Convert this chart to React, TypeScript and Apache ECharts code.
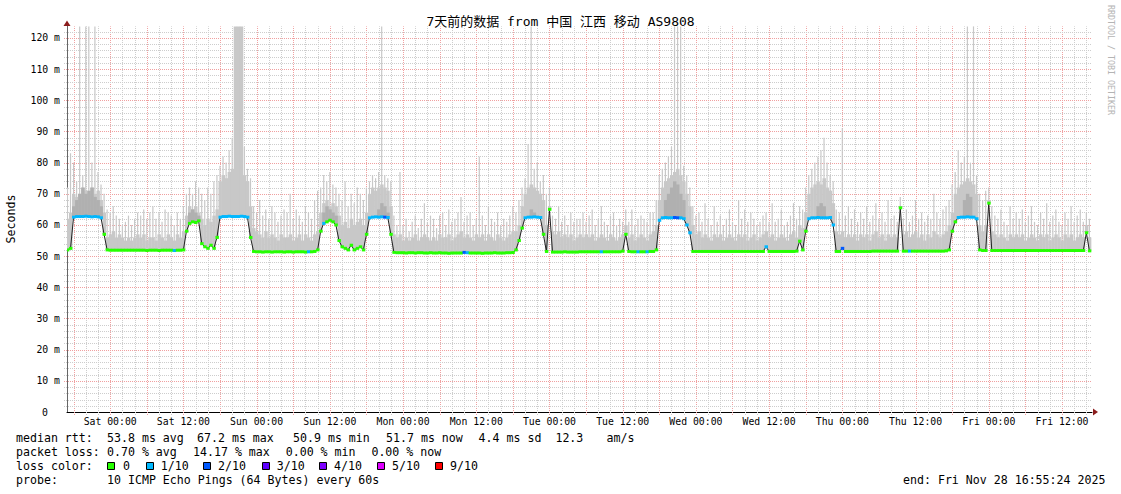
import React, { useEffect, useRef } from 'react';
import * as echarts from 'echarts';

const FONT = "'DejaVu Sans Mono', 'Noto Sans CJK SC', monospace";
const TITLE = '7天前的数据 from 中国 江西 移动 AS9808';
const SIDE_TEXT = 'RRDTOOL / TOBI OETIKER';
const Y_NAME = 'Seconds';

// time in hours relative to Sat 00:00 (end: Fri Nov 28 16:55:24, span 7 days)
const X_MIN = -7.0767;
const X_MAX = 160.9233;
const Y_MAX = 123.7;
const SLOT_START = -7; // first sample (hours)
const SLOT_STEP = 0.5; // one sample every 30 min

const tickHours = [0, 12, 24, 36, 48, 60, 72, 84, 96, 108, 120, 132, 144, 156];
const tickLabels = ['Sat 00:00', 'Sat 12:00', 'Sun 00:00', 'Sun 12:00', 'Mon 00:00', 'Mon 12:00', 'Tue 00:00',
  'Tue 12:00', 'Wed 00:00', 'Wed 12:00', 'Thu 00:00', 'Thu 12:00', 'Fri 00:00', 'Fri 12:00'];
const yLabelValues = [0, 10, 20, 30, 40, 50, 60, 70, 80, 90, 100, 110, 120];

// median rtt (ms), one value per 30 min
const median = [
  52, 52.5, 62.5, 62.7, 62.7, 62.7, 62.8, 62.7, 62.6, 62.7, 62.6, 62.3, 57, 52, 51.9, 51.9, 51.9, 51.9, 51.9, 51.9, 51.9, 51.9, 51.9, 51.9,
  51.9, 51.9, 51.8, 51.9, 51.9, 51.9, 51.8, 51.9, 51.9, 51.9, 51.9, 51.8, 51.9, 51.9, 52, 58, 60.5, 61, 60.8, 61.3, 54, 53, 52.5, 53.5,
  52.5, 56, 62.5, 62.7, 62.7, 62.8, 62.7, 62.7, 62.7, 62.8, 62.7, 62.5, 56, 51.5, 51.4, 51.4, 51.3, 51.4, 51.4, 51.3, 51.4, 51.4, 51.4, 51.3,
  51.4, 51.4, 51.3, 51.4, 51.4, 51.4, 51.3, 51.4, 51.4, 51.5, 52, 58, 60.5, 61, 61.5, 61, 60, 55, 53, 52.5, 52, 53.5, 52, 52.5,
  53, 52, 57, 62.3, 62.5, 62.6, 62.5, 62.6, 62.5, 62.4, 57, 51.2, 51.1, 51.1, 51.1, 51, 51.1, 51.1, 51, 51.1, 51.1, 51, 51, 51.1,
  51, 51, 51.1, 51, 51, 50.9, 51, 51, 51, 51, 51.2, 51.1, 51, 51, 51, 51, 50.9, 51, 51, 51, 51.1, 51, 51, 51,
  51.1, 51.1, 51.2, 52, 55, 59, 62.3, 62.5, 62.5, 62.6, 62.5, 62.4, 57, 51.5, 65, 51.3, 51.3, 51.3, 51.3, 51.4, 51.3, 51.3, 51.3, 51.3,
  51.4, 51.4, 51.4, 51.4, 51.4, 51.4, 51.4, 51.4, 51.4, 51.4, 51.4, 51.4, 51.4, 51.4, 51.6, 57, 51.5, 51.4, 51.4, 51.4, 51.4, 51.4, 51.4, 51.5,
  51.5, 52, 61.5, 62.3, 62.4, 62.3, 62.3, 62.4, 62.3, 62.3, 62, 60, 57.5, 51.5, 51.5, 51.5, 51.5, 51.5, 51.5, 51.5, 51.5, 51.5, 51.5, 51.5,
  51.5, 51.5, 51.5, 51.5, 51.5, 51.5, 51.5, 51.5, 51.5, 51.5, 51.5, 51.5, 51.5, 53, 51.5, 51.5, 51.5, 51.5, 51.5, 51.5, 51.5, 51.5, 51.5, 51.6,
  54.8, 52, 58, 62, 62.3, 62.3, 62.4, 62.3, 62.3, 62.3, 62.4, 60, 51.5, 51.5, 52.5, 51.5, 51.5, 51.5, 51.5, 51.5, 51.5, 51.5, 51.5, 51.5,
  51.6, 51.6, 51.6, 51.6, 51.6, 51.6, 51.6, 51.6, 51.6, 65.5, 51.6, 51.6, 51.6, 51.6, 51.6, 51.6, 51.6, 51.6, 51.6, 51.6, 51.6, 51.6, 51.6, 51.6,
  51.7, 52, 58, 61, 62.4, 62.5, 62.5, 62.6, 62.5, 62.5, 62, 52, 51.8, 51.8, 67, 51.8, 51.8, 51.8, 51.8, 51.8, 51.8, 51.8, 51.8, 51.8,
  51.8, 51.8, 51.8, 51.8, 51.8, 51.8, 51.8, 51.8, 51.8, 51.8, 51.8, 51.8, 51.8, 51.8, 51.8, 51.8, 51.8, 51.8, 51.8, 51.8, 51.8, 51.8, 57.5, 51.7,
];

// upper edge of the dense smoke body (ms)
const smokeMid = [
  62, 64, 70, 69, 70, 72, 71, 70, 72, 70, 71, 68, 64, 56, 57, 58, 56, 57, 56, 55, 56, 55, 56, 57,
  56, 57, 55, 56, 56, 55, 57, 56, 55, 57, 56, 55, 57, 56, 58, 63, 66, 65, 66, 64, 62, 60, 62, 61,
  63, 65, 74, 76, 75, 77, 78, 130, 130, 130, 76, 74, 66, 59, 58, 57, 56, 58, 56, 57, 56, 55, 57, 56,
  56, 57, 55, 56, 57, 55, 57, 56, 55, 57, 58, 64, 67, 68, 66, 67, 66, 63, 60, 61, 59, 62, 60, 61,
  62, 60, 64, 70, 72, 71, 72, 73, 72, 71, 66, 57, 56, 57, 55, 56, 55, 56, 57, 55, 56, 57, 56, 55,
  56, 55, 57, 56, 56, 57, 55, 56, 57, 58, 56, 57, 56, 55, 57, 56, 57, 55, 57, 56, 55, 57, 56, 55,
  56, 57, 58, 58, 60, 66, 70, 72, 73, 72, 71, 70, 68, 60, 66, 58, 57, 58, 56, 57, 56, 57, 55, 56,
  57, 56, 57, 56, 57, 55, 56, 57, 56, 55, 57, 56, 55, 56, 57, 60, 56, 57, 55, 56, 57, 56, 55, 57,
  58, 60, 68, 72, 74, 75, 76, 77, 78, 76, 74, 70, 66, 60, 57, 58, 56, 57, 56, 55, 57, 56, 57, 55,
  56, 57, 56, 55, 57, 56, 57, 55, 56, 57, 55, 56, 57, 58, 56, 57, 55, 56, 57, 56, 55, 57, 58, 56,
  60, 59, 64, 70, 72, 73, 74, 73, 75, 72, 71, 67, 58, 57, 58, 56, 57, 56, 57, 55, 57, 56, 57, 55,
  57, 58, 56, 57, 55, 57, 56, 57, 56, 66, 57, 58, 56, 57, 58, 56, 57, 55, 57, 56, 58, 57, 56, 57,
  58, 60, 64, 70, 72, 73, 74, 75, 74, 73, 70, 60, 58, 60, 68, 58, 57, 56, 57, 56, 55, 57, 56, 57,
  56, 57, 55, 56, 57, 56, 55, 57, 56, 57, 55, 56, 57, 56, 55, 57, 56, 57, 55, 56, 57, 56, 60, 56,
];

// highest ping of each sample (ms); values above the axis are clipped
const smokeMax = [
  72, 83, 80, 74, 130, 76, 130, 130, 80, 130, 77, 73, 70, 65, 64, 66, 63, 62, 60, 61, 63, 60, 62, 64,
  63, 65, 62, 64, 66, 62, 64, 61, 65, 64, 63, 60, 64, 62, 66, 70, 72, 70, 74, 72, 70, 68, 72, 70,
  74, 76, 79, 82, 80, 84, 88, 130, 130, 130, 85, 78, 75, 66, 64, 68, 63, 65, 62, 66, 64, 61, 63, 65,
  64, 70, 62, 65, 63, 61, 66, 64, 62, 68, 71, 72, 76, 74, 77, 73, 72, 70, 68, 74, 66, 70, 67, 72,
  70, 68, 72, 74, 76, 75, 77, 130, 76, 75, 74, 63, 60, 77, 60, 62, 58, 61, 63, 59, 62, 67, 61, 63,
  62, 59, 63, 64, 60, 65, 61, 62, 64, 69, 61, 63, 64, 60, 62, 82, 63, 60, 66, 62, 61, 64, 60, 62,
  61, 63, 66, 64, 68, 72, 75, 86, 130, 78, 80, 74, 76, 70, 72, 63, 62, 66, 61, 63, 60, 64, 61, 62,
  62, 64, 61, 63, 65, 60, 62, 66, 61, 60, 63, 64, 60, 62, 61, 65, 61, 65, 60, 62, 63, 62, 61, 64,
  64, 68, 76, 78, 80, 82, 85, 130, 130, 130, 79, 76, 72, 66, 63, 64, 61, 67, 62, 60, 66, 61, 63, 60,
  62, 65, 61, 60, 68, 62, 65, 61, 64, 62, 60, 61, 63, 64, 61, 67, 61, 62, 65, 60, 61, 63, 67, 62,
  66, 65, 72, 76, 78, 80, 82, 84, 88, 80, 76, 74, 65, 64, 91, 63, 66, 62, 65, 61, 64, 62, 66, 61,
  63, 67, 62, 64, 61, 68, 62, 63, 61, 69, 62, 65, 61, 63, 68, 62, 64, 61, 63, 62, 70, 64, 62, 65,
  66, 68, 73, 77, 84, 80, 82, 130, 80, 130, 76, 70, 68, 71, 72, 66, 63, 62, 65, 61, 60, 66, 62, 64,
  62, 65, 61, 63, 66, 61, 60, 64, 62, 67, 61, 63, 65, 61, 60, 64, 62, 66, 61, 63, 65, 61, 64, 62,
];

// darker (inner pings) smoke during the busy periods: [hour, top ms]
const darkSmoke = [
  [-6, 66], [-5.5, 68], [-5, 70], [-4.5, 72], [-4, 70], [-3.5, 71], [-3, 72], [-2.5, 69], [-2, 68], [-1.5, 66],
  [13, 64], [13.5, 65], [14, 64], [14.5, 63],
  [35, 64], [35.5, 66], [36, 65], [36.5, 64], [37, 63],
  [44, 65], [44.5, 67], [45, 66], [45.5, 64],
  [69, 65], [69.5, 64],
  [91, 68], [91.5, 70], [92, 72], [92.5, 74], [93, 73], [93.5, 70], [94, 68],
  [116, 66], [116.5, 67], [117, 66],
  [140, 68], [140.5, 70], [141, 69],
];

// packet loss per sample (pings lost out of 10)
const lossLevel = [
  0, 0, 1, 1, 1, 1, 1, 1, 1, 1, 1, 1, 0, 0, 0, 0, 0, 0, 0, 0, 0, 0, 0, 0,
  0, 0, 0, 0, 0, 0, 0, 0, 0, 0, 0, 1, 0, 0, 0, 0, 0, 0, 0, 0, 0, 0, 0, 0,
  0, 0, 1, 1, 1, 1, 1, 1, 1, 1, 1, 1, 0, 0, 0, 0, 0, 0, 0, 0, 0, 0, 0, 0,
  0, 0, 0, 0, 0, 0, 0, 1, 0, 0, 0, 0, 1, 0, 0, 0, 0, 0, 0, 0, 0, 0, 0, 0,
  0, 0, 0, 1, 1, 1, 1, 1, 2, 1, 0, 0, 0, 0, 0, 0, 0, 0, 0, 0, 0, 0, 0, 0,
  0, 0, 0, 0, 0, 0, 0, 0, 0, 0, 2, 1, 0, 0, 0, 0, 0, 0, 0, 0, 0, 0, 0, 0,
  0, 0, 0, 0, 0, 0, 1, 1, 1, 1, 1, 1, 0, 0, 0, 0, 0, 0, 0, 0, 0, 0, 0, 0,
  0, 0, 0, 0, 0, 0, 0, 1, 0, 0, 0, 0, 0, 0, 0, 0, 0, 0, 0, 1, 0, 0, 1, 0,
  0, 0, 1, 1, 1, 1, 1, 2, 2, 1, 1, 1, 1, 0, 0, 0, 0, 0, 0, 0, 0, 0, 0, 0,
  0, 0, 0, 0, 0, 0, 0, 0, 0, 0, 0, 0, 0, 1, 0, 0, 0, 0, 0, 0, 0, 0, 0, 0,
  0, 0, 0, 1, 1, 1, 1, 1, 1, 1, 1, 1, 0, 0, 2, 0, 0, 0, 0, 0, 0, 0, 0, 0,
  0, 0, 0, 0, 0, 0, 0, 0, 0, 0, 0, 0, 1, 0, 0, 0, 0, 0, 0, 0, 0, 0, 0, 0,
  0, 0, 0, 0, 1, 1, 1, 1, 1, 1, 1, 0, 0, 0, 0, 0, 0, 0, 0, 0, 0, 0, 0, 0,
  0, 0, 0, 0, 0, 0, 0, 0, 0, 0, 0, 0, 0, 0, 0, 0, 0, 0, 0, 0, 0, 0, 0, 0,
];

const lossLevels = [0, 1, 2, 3, 4, 5, 9];
const lossNames = ['0', '1/10', '2/10', '3/10', '4/10', '5/10', '9/10'];
const lossColors = ['#26ff00', '#00b8ff', '#0059ff', '#5e00ff', '#7e00ff', '#dd00ff', '#ff0000'];

const statLabels = ['median rtt:', 'packet loss:', 'loss color:', 'probe:'];
const rttStats = ['53.8 ms avg', '67.2 ms max', '50.9 ms min', '51.7 ms now', '4.4 ms sd', '12.3', 'am/s'];
const lossStats = ['0.70 % avg', '14.17 % max', '0.00 % min', '0.00 % now'];
const probeText = '10 ICMP Echo Pings (64 Bytes) every 60s';
const endText = 'end: Fri Nov 28 16:55:24 2025';

// layout (pixels)
const rttX = [107, 197, 293, 386, 478.6, 555.4, 606.5];
const lossX = [107, 193, 285.7, 371.4];
const boxX = [107.5, 146.5, 203.5, 262.5, 319.5, 377.5, 435.5];
const boxLabelX = [123, 160.7, 218, 276.8, 334, 392, 450];
const rowY = [438, 452, 466, 480];

const SMOKE = '#c8c8c8';
const SMOKE_DARK = '#b0b0b0';
const MINOR = '#cdcdcd';
const MAJOR = '#f0a0a0';
const ARROW = '#8b1c1c';

const slotHour = (i: number) => SLOT_START + i * SLOT_STEP;
const slotIndex = (h: number) => Math.round((h - SLOT_START) / SLOT_STEP);

function txt(x: number, y: number, text: string, opts: any = {}) {
  return {
    type: 'text', x, y, silent: true, rotation: opts.rotation || 0,
    style: {
      text, fill: opts.fill || '#000', fontSize: opts.size || 11.6, fontFamily: FONT,
      align: opts.align || 'left', textAlign: opts.align || 'left',
      verticalAlign: 'middle', textVerticalAlign: 'middle',
    },
  };
}

function buildOption() {
  const vGrid: number[][] = [];
  for (let h = -6; h <= 160; h += 2) vGrid.push([h, h % 6 === 0 ? 1 : 0]);
  const hGrid: number[][] = [];
  for (let v = 2; v <= 122; v += 2) hGrid.push([v, v % 10 === 0 ? 1 : 0]);

  const smokeData = median.map((m, i) => [slotHour(i), m, smokeMid[i], smokeMax[i]]);
  const darkData = darkSmoke.map(([h, top]) => [h, median[slotIndex(h)], top]);
  const lineData = median.map((m, i) => [slotHour(i), m]);
  const lossData = median.map((m, i) => [slotHour(i), m, lossLevel[i]]);

  const clipOf = (params: any) => ({
    x: params.coordSys.x, y: params.coordSys.y, width: params.coordSys.width, height: params.coordSys.height,
  });

  const graphic: any[] = [];
  graphic.push(txt(560.5, 21.5, TITLE, { size: 13, align: 'center' }));
  graphic.push(txt(1110.5, 60, SIDE_TEXT, { size: 8.3, align: 'center', fill: '#b4b4b4', rotation: -Math.PI / 2 }));
  graphic.push(txt(10.5, 219, Y_NAME, { size: 11.6, align: 'center', rotation: Math.PI / 2 }));
  statLabels.forEach((s, r) => graphic.push(txt(16, rowY[r], s)));
  rttStats.forEach((s, k) => graphic.push(txt(rttX[k], rowY[0], s)));
  lossStats.forEach((s, k) => graphic.push(txt(lossX[k], rowY[1], s)));
  lossNames.forEach((s, k) => {
    graphic.push({
      type: 'rect', silent: true,
      shape: { x: boxX[k], y: rowY[2] - 3.5, width: 7, height: 7 },
      style: { fill: lossColors[k], stroke: '#000', lineWidth: 1 },
    });
    graphic.push(txt(boxLabelX[k], rowY[2], s));
  });
  graphic.push(txt(107, rowY[3], probeText));
  graphic.push(txt(903, rowY[3], endText));
  // axis arrows
  graphic.push({ type: 'polygon', silent: true, shape: { points: [[1093, 408.5], [1093, 415.5], [1098, 412]] }, style: { fill: ARROW } });
  graphic.push({ type: 'polygon', silent: true, shape: { points: [[63.5, 26], [70.5, 26], [67, 20.5]] }, style: { fill: ARROW } });

  return {
    animation: false,
    backgroundColor: '#ffffff',
    grid: { left: 67, right: 29, top: 26.4, bottom: 82, containLabel: false, outerBoundsMode: 'none' },
    xAxis: {
      type: 'value', min: X_MIN, max: X_MAX,
      splitLine: { show: false },
      axisLine: { show: true, onZero: false, lineStyle: { color: '#000', width: 1 } },
      axisTick: { show: false },
      axisLabel: {
        customValues: tickHours,
        formatter: (v: number) => { const k = tickHours.indexOf(v); return k >= 0 ? tickLabels[k] : ''; },
        fontFamily: FONT, fontSize: 9.8, color: '#000', margin: 5,
      },
    },
    yAxis: {
      type: 'value', min: 0, max: Y_MAX, interval: 10,
      splitLine: { show: false },
      axisLine: { show: true, onZero: false, lineStyle: { color: '#666', width: 1 } },
      axisTick: { show: false },
      axisLabel: {
        customValues: yLabelValues,
        formatter: (v: number) => (v === 0 ? '{z|0}' : `${v} m`),
        fontFamily: FONT, fontSize: 9.8, color: '#000', margin: 7,
        rich: { z: { fontFamily: FONT, fontSize: 9.8, color: '#000', padding: [0, 12, 0, 0] } },
      },
    },
    graphic,
    series: [
      {
        type: 'custom', name: 'vgrid', silent: true, clip: false, z: 1, data: vGrid,
        renderItem: (params: any, api: any) => {
          const h = api.value(0); const major = api.value(1);
          const p0 = api.coord([h, 0]); const p1 = api.coord([h, Y_MAX]);
          const x = Math.round(p0[0]) + 0.5;
          return {
            type: 'line', shape: { x1: x, y1: p0[1] + 3, x2: x, y2: p1[1] },
            style: { stroke: major ? MAJOR : MINOR, lineWidth: 1, lineDash: [1, 1] },
          };
        },
      },
      {
        type: 'custom', name: 'hgrid', silent: true, clip: false, z: 1, data: hGrid,
        renderItem: (params: any, api: any) => {
          const v = api.value(0); const major = api.value(1);
          const p0 = api.coord([X_MIN, v]); const p1 = api.coord([X_MAX, v]);
          const y = Math.round(p0[1]) + 0.5;
          return {
            type: 'line', shape: { x1: p0[0] - 3, y1: y, x2: p1[0], y2: y },
            style: { stroke: major ? MAJOR : MINOR, lineWidth: 1, lineDash: [1, 1] },
          };
        },
      },
      {
        type: 'custom', name: 'smoke', silent: true, z: 2, data: smokeData,
        renderItem: (params: any, api: any) => {
          const h = api.value(0); const lo = api.value(1); const mid = api.value(2); const hi = api.value(3);
          const clip = clipOf(params);
          const a = api.coord([h - SLOT_STEP / 2, lo]);
          const b = api.coord([h + SLOT_STEP / 2, mid]);
          const children: any[] = [];
          const body = echarts.graphic.clipRectByRect(
            { x: a[0], y: b[1], width: b[0] - a[0] + 0.4, height: a[1] - b[1] }, clip);
          if (body) children.push({ type: 'rect', shape: body, style: { fill: SMOKE } });
          if (hi > mid) {
            const c = api.coord([h, hi]);
            const sp = echarts.graphic.clipRectByRect(
              { x: c[0] - 0.6, y: c[1], width: 1.2, height: b[1] - c[1] + 0.5 }, clip);
            if (sp) children.push({ type: 'rect', shape: sp, style: { fill: SMOKE } });
          }
          return { type: 'group', children };
        },
      },
      {
        type: 'custom', name: 'smokeDark', silent: true, z: 2, data: darkData,
        renderItem: (params: any, api: any) => {
          const h = api.value(0); const lo = api.value(1); const top = api.value(2);
          const a = api.coord([h - SLOT_STEP / 2, lo]);
          const b = api.coord([h + SLOT_STEP / 2, top]);
          const r = echarts.graphic.clipRectByRect(
            { x: a[0], y: b[1], width: b[0] - a[0] + 0.4, height: a[1] - b[1] }, clipOf(params));
          if (!r) return null;
          return { type: 'rect', shape: r, style: { fill: SMOKE_DARK } };
        },
      },
      {
        type: 'line', name: 'median', silent: true, z: 3, data: lineData,
        symbol: 'none', lineStyle: { color: '#202020', width: 1 },
      },
      {
        type: 'custom', name: 'loss', silent: true, z: 4, data: lossData,
        renderItem: (params: any, api: any) => {
          const h = api.value(0); const m = api.value(1); const lv = api.value(2);
          const a = api.coord([h - SLOT_STEP / 2, m]);
          const b = api.coord([h + SLOT_STEP / 2, m]);
          const r = echarts.graphic.clipRectByRect(
            { x: a[0], y: a[1] - 1.5, width: b[0] - a[0] + 0.4, height: 3 }, clipOf(params));
          if (!r) return null;
          const k = Math.max(0, lossLevels.indexOf(lv));
          return { type: 'rect', shape: r, style: { fill: lossColors[k] } };
        },
      },
    ],
  };
}

export default function App() {
  const ref = useRef<HTMLDivElement>(null);
  useEffect(() => {
    const chart = echarts.init(ref.current as HTMLDivElement, null, { renderer: 'svg' });
    chart.setOption(buildOption() as any);
    return () => chart.dispose();
  }, []);
  return (
    <div
      ref={ref}
      style={{ position: 'fixed', left: 0, top: 0, width: 1121, height: 494, background: '#fff' }}
    />
  );
}
